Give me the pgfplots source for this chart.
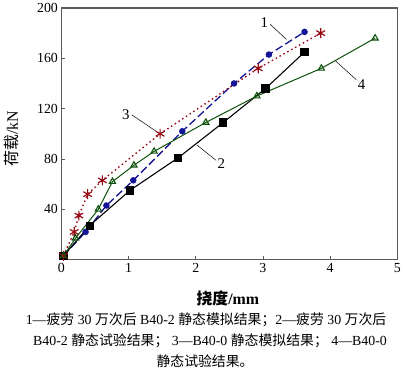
\documentclass[border=0pt]{standalone}
\usepackage{fontspec}
\setmainfont{Liberation Serif}
\newfontfamily\cjk{Noto Sans CJK SC}
\usepackage{pgfplots}
\pgfplotsset{compat=1.18}
\definecolor{cblue}{RGB}{20,20,150}
\definecolor{cred}{RGB}{150,10,20}
\definecolor{cgreen}{RGB}{10,80,10}
\definecolor{cframe}{RGB}{90,90,90}
\begin{document}
\begin{tikzpicture}[x=1pt,y=1pt]
\path (-62,-115) rectangle (342,259);
\begin{axis}[
  at={(0,0)}, anchor=south west,
  scale only axis, width=339pt, height=254pt,
  xmin=0, xmax=5, ymin=0, ymax=200,
  xtick={0,1,2,3,4,5}, ytick={40,80,120,160,200},
  tick align=inside, xtick pos=bottom, ytick pos=left,
  major tick length=4pt,
  axis line style={cframe, line width=1.1pt},
  tick style={cframe, line width=0.8pt},
  tick label style={font=\fontsize{14}{14}\selectfont},
  /pgf/number format/assume math mode=true,
  clip=false,
]
% 1 blue dashed circles
\addplot[cblue, line width=1.3pt, dash pattern=on 8pt off 3.5pt, mark=*, mark size=2.6pt, mark options={solid}] coordinates {
(0.03,3) (0.36,22) (0.67,43) (1.07,63) (1.80,102) (2.57,140) (3.09,163) (3.62,181)};
% 2 black squares
\addplot[black, line width=1.1pt, mark=square*, mark size=3.6pt] coordinates {
(0.03,3) (0.42,27) (1.02,55) (1.74,81) (2.41,109) (3.04,136) (3.62,165)};
% 3 red dotted asterisks
\addplot[cred, line width=1.4pt, dash pattern=on 1.5pt off 3pt, mark=asterisk, mark size=5pt, mark options={solid, line width=1.2pt}] coordinates {
(0.03,3) (0.19,22) (0.26,35) (0.39,52) (0.61,63) (1.47,100) (2.93,152) (3.86,180)};
% 4 green triangles
\addplot[cgreen, line width=1.0pt, mark=triangle, mark size=3.6pt, mark options={solid, line width=1.1pt}] coordinates {
(0.03,3) (0.21,17) (0.55,40) (0.76,62) (1.08,75) (1.38,86) (2.15,109) (2.91,130) (3.87,152) (4.67,176)};
% annotations
\draw[black, line width=0.5pt] (axis cs:3.11,187) -- (axis cs:3.35,175);
\node[font=\fontsize{15}{15}\selectfont] at (axis cs:3.02,188) {1};
\draw[black, line width=0.5pt] (axis cs:2.02,91) -- (axis cs:2.30,79);
\node[font=\fontsize{15}{15}\selectfont] at (axis cs:2.38,76) {2};
\draw[black, line width=0.5pt] (axis cs:1.05,115) -- (axis cs:1.41,102);
\node[font=\fontsize{15}{15}\selectfont] at (axis cs:0.96,115) {3};
\draw[black, line width=0.5pt] (axis cs:4.08,158) -- (axis cs:4.39,143);
\node[font=\fontsize{15}{15}\selectfont] at (axis cs:4.47,139) {4};
\end{axis}
\node[font=\fontsize{16}{16}\selectfont] at (168,-39) {{\cjk\bfseries 挠度}\textbf{/mm}};
\node[rotate=90, font=\fontsize{16}{16}\selectfont] at (-50,122) {{\cjk 荷载}/kN};
\node[font=\fontsize{14}{14}\selectfont] at (146,-61) {1—{\cjk 疲劳} 30 {\cjk 万次后} B40-2 {\cjk 静态模拟结果；}2—{\cjk 疲劳} 30 {\cjk 万次后}};
\node[font=\fontsize{14}{14}\selectfont] at (150,-82) {B40-2 {\cjk 静态试验结果；} 3—B40-0 {\cjk 静态模拟结果；} 4—B40-0};
\node[font=\fontsize{14}{14}\selectfont] at (145,-103) {{\cjk 静态试验结果。}};
\end{tikzpicture}
\end{document}
